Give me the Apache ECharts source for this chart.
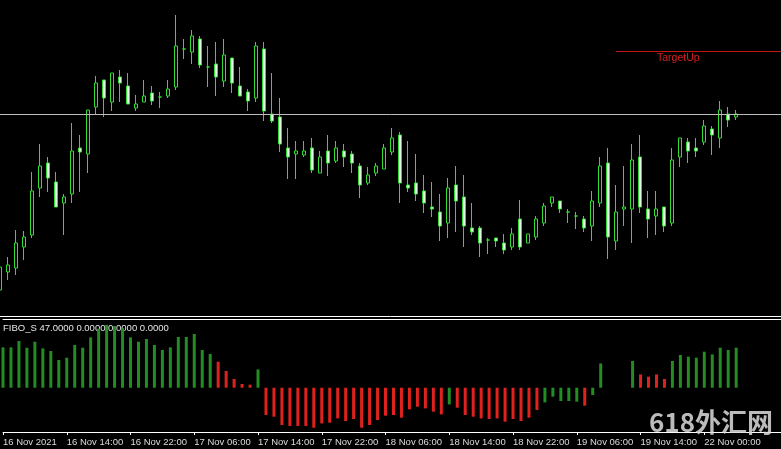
<!DOCTYPE html>
<html><head><meta charset="utf-8">
<script src="https://cdn.jsdelivr.net/npm/echarts@6/dist/echarts.min.js"></script>
<style>html,body{margin:0;padding:0;background:#000;}#c{width:781px;height:449px;}</style>
</head><body><div id="c"></div>
<script>
// H1 bars, index 0 = 16 Nov 06:00 ; values in chart points (higher = up)
const opens  = [10,28,32,53,65,112,137,118,97,106,152,146,193,220,198,223,214,192,198,207,203,204,213,251,248,261,233,236,219,242,214,208,202,251,186,183,152,146,145,152,127,149,139,149,146,134,117,127,131,148,165,115,117,109,93,88,77,115,103,72,72,60,62,57,53,81,57,63,77,97,99,88,84,81,74,97,137,59,91,91,143,91,84,93,77,143,158,152,158,171,162,186,183];
const closes = [33,35,57,63,109,134,122,93,103,149,148,190,217,202,227,217,196,196,204,199,203,211,254,251,264,235,233,223,245,217,204,199,254,189,179,156,143,149,149,130,143,137,152,143,137,115,125,134,152,162,117,112,106,97,91,74,112,99,74,68,57,60,59,50,66,53,66,81,94,103,91,88,84,72,99,134,63,88,93,140,93,81,91,74,140,162,149,149,174,165,190,180,186];
const lows   = [5,20,25,40,62,103,108,93,65,97,108,127,185,183,189,198,196,189,198,195,192,202,210,241,236,232,213,204,213,207,204,189,198,179,177,148,121,121,143,127,127,124,137,133,127,102,115,124,131,145,97,108,99,87,83,59,62,68,53,65,43,46,53,46,50,50,57,60,74,93,87,77,71,68,59,93,41,50,74,57,87,62,65,68,74,133,137,143,155,145,152,173,180];
const highs  = [38,43,70,69,128,156,143,128,106,177,165,190,224,220,227,230,227,205,220,214,208,220,285,261,270,264,254,258,261,242,233,211,258,258,227,202,172,159,159,162,149,165,159,156,149,137,133,137,156,172,168,159,146,125,118,106,122,134,125,97,74,62,62,66,72,100,66,84,97,103,99,91,88,84,109,143,152,115,134,156,165,109,109,93,152,162,162,162,180,174,199,193,190];

// FIBO_S histogram (same bars), null = no value
const histValues = [40.3,40.3,46.7,40,46,39.3,36.7,27.7,30,42.7,40,50.3,59,62.7,61.7,59.7,50.3,46,48.7,42.7,37.7,40.3,50.7,50.7,53.7,37.7,33.7,26,16.7,8.7,3.7,3,18.3,-27.3,-29,-37.3,-38.3,-38.3,-38.3,-40,-35.7,-35,-30.7,-33.3,-31.3,-40,-37.3,-32.3,-28,-27.3,-30,-21.7,-19,-20.7,-24,-26.7,-16.7,-20,-27.3,-29,-30.7,-31.3,-30.7,-34,-31.3,-33.3,-30,-22.3,-14.7,-9,-13.3,-13.3,-14,-18,-7.3,24.3,null,null,null,26.7,13.3,11,13.3,8.7,26.7,32.7,31,30,36,33.3,40,37.7,40];
const histColors = ('ggggggggggggggggggggggggggg'+'rrrrr'+'g'+'rrrrrrrrrrrrrrrrrrrrrrr'+'g'+'rrrrrrrrrrr'+'ggggg'+'r'+'gg'+'---'+'g'+'rrrr'+'ggggggggg').split('');

// time axis labels and the bar index they sit on
const tickLabels = ['16 Nov 2021','16 Nov 14:00','16 Nov 22:00','17 Nov 06:00','17 Nov 14:00','17 Nov 22:00','18 Nov 06:00','18 Nov 14:00','18 Nov 22:00','19 Nov 06:00','19 Nov 14:00','22 Nov 00:00'];
const tickIndex  = [0,8,16,24,32,40,48,56,64,72,80,88];

const levelLine = 186;      // grey horizontal line
const targetUp = 249;       // TargetUp level
const targetStart = 77;     // bar where TargetUp line starts

const X_MAX = 97.625;       // visible bar range (right edge of window)
const labelAt = {};
tickIndex.forEach((k, j) => labelAt[k] = tickLabels[j]);

const candles = opens.map((o, i) => [i, o, closes[i], lows[i], highs[i]]);
const colorMap = { g: '#238c23', r: '#e0221e' };
const hist = [];
histValues.forEach((v, i) => { if (v !== null) hist.push({ value: [i, v], itemStyle: { color: colorMap[histColors[i]] } }); });

const GREEN = '#30dc30';
const chart = echarts.init(document.getElementById('c'), null, { renderer: 'canvas' });
chart.setOption({
  backgroundColor: '#000',
  animation: false,
  grid: [
    { left: 0, right: 0, top: 0, height: 316 },
    { left: 0, right: 0, top: 319, height: 113 }
  ],
  xAxis: [
    { gridIndex: 0, type: 'value', min: 0, max: X_MAX,
      axisLine: { show: true, onZero: false, lineStyle: { color: '#ffffff', width: 1 } },
      axisTick: { show: false }, axisLabel: { show: false }, splitLine: { show: false } },
    { gridIndex: 1, type: 'value', min: 0, max: X_MAX, interval: 8, position: 'bottom',
      axisLine: { show: true, onZero: false, lineStyle: { color: '#ffffff', width: 1 } },
      axisTick: { show: true, length: 3, lineStyle: { color: '#ffffff' }, customValues: tickIndex },
      axisLabel: { show: true, customValues: tickIndex,
        formatter: (v) => labelAt[Math.round(v)] || '', align: 'left', margin: 5,
        color: '#dcdcdc', fontSize: 9.5, fontFamily: 'Liberation Sans',
        showMinLabel: true, showMaxLabel: true, hideOverlap: false },
      splitLine: { show: false } },
    { gridIndex: 1, type: 'value', min: 0, max: X_MAX, position: 'top',
      axisLine: { show: true, onZero: false, lineStyle: { color: '#ffffff', width: 1 } },
      axisTick: { show: false }, axisLabel: { show: false }, splitLine: { show: false } }
  ],
  yAxis: [
    { gridIndex: 0, type: 'value', min: -16, max: 300, show: false, splitLine: { show: false } },
    { gridIndex: 1, type: 'value', min: -44.3, max: 68.7, show: false, splitLine: { show: false } }
  ],
  series: [
    { type: 'candlestick', xAxisIndex: 0, yAxisIndex: 0, data: candles, barWidth: 4,
      encode: { x: 0, y: [1, 2, 3, 4] },
      itemStyle: { color: '#000000', color0: '#e8ffe8', borderColor: GREEN, borderColor0: GREEN,
        borderColorDoji: GREEN, borderWidth: 1 },
      markLine: { silent: true, symbol: 'none', animation: false,
        label: { show: false },
        data: [
          { yAxis: levelLine, lineStyle: { color: '#bdbdbd', width: 1, type: 'solid' } },
          [ { coord: [targetStart, targetUp], lineStyle: { color: '#c41414', width: 1, type: 'solid' } },
            { coord: [X_MAX, targetUp] } ]
        ] } },
    { type: 'bar', xAxisIndex: 1, yAxisIndex: 1, data: hist, barWidth: 3 }
  ],
  graphic: [
    { type: 'text', left: 657, top: 53, silent: true,
      style: { text: 'TargetUp', fill: '#d42020', font: '10.5px "Liberation Sans"' } },
    { type: 'text', left: 3, top: 323, silent: true,
      style: { text: 'FIBO_S 47.0000 0.0000 0.0000 0.0000', fill: '#e6e6e6', font: '9.5px "Liberation Sans"' } },
    { type: 'text', left: 649, top: 409, silent: true, z: 100,
      style: { text: '618外汇网', fill: 'rgba(220,220,220,0.85)', font: 'bold 26px "Noto Sans CJK SC"' } }
  ]
});
</script></body></html>
